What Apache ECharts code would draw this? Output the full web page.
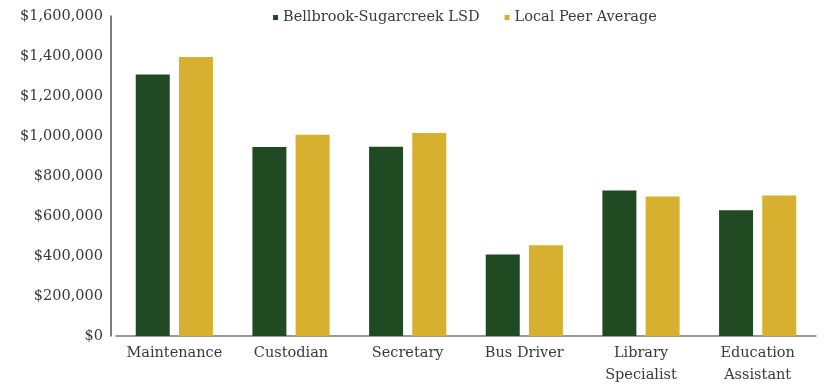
<!DOCTYPE html>
<html>
<head>
<meta charset="utf-8">
<script src="https://cdn.jsdelivr.net/npm/echarts@6/dist/echarts.min.js"></script>
<style>
  html, body { margin: 0; padding: 0; background: #fff; }
  #chart { width: 827px; height: 386px; }
</style>
</head>
<body>
<div id="chart"></div>
<script>
// categories and values
var categories = ['Maintenance', 'Custodian', 'Secretary', 'Bus Driver', 'Library\nSpecialist', 'Education\nAssistant'];
var bellbrook = [1308000, 945000, 946000, 408000, 728000, 629000];
var peerAverage = [1395000, 1006000, 1015000, 454000, 697000, 702000];

var chart = echarts.init(document.getElementById('chart'));
var font = '"DejaVu Serif", "Liberation Serif", serif';

chart.setOption({
  animation: false,
  textStyle: { fontFamily: font },
  legend: {
    left: 268,
    top: 5,
    itemWidth: 5,
    itemHeight: 5,
    itemGap: 25,
    icon: 'rect',
    textStyle: { fontFamily: font, fontSize: 14.5, color: '#3a3a3a' },
    data: ['Bellbrook-Sugarcreek LSD', 'Local Peer Average']
  },
  grid: { left: 116, right: 11, top: 16, bottom: 47 },
  xAxis: {
    type: 'category',
    data: categories,
    axisTick: { show: false },
    axisLine: { lineStyle: { color: '#777', width: 1.5 } },
    axisLabel: { interval: 0, color: '#3a3a3a', fontSize: 14.5, fontFamily: font, lineHeight: 22, margin: 6 }
  },
  yAxis: {
    type: 'value',
    min: 0,
    max: 1600000,
    interval: 200000,
    offset: 5,
    splitLine: { show: false },
    axisTick: { show: false },
    axisLine: { show: true, lineStyle: { color: '#555', width: 1.5 } },
    axisLabel: {
      color: '#3a3a3a',
      fontSize: 14.5,
      fontFamily: font,
      margin: 8,
      formatter: function (v) { return '$' + v.toLocaleString('en-US'); }
    }
  },
  series: [{
    name: 'Bellbrook-Sugarcreek LSD',
    type: 'bar',
    data: bellbrook,
    barWidth: 34,
    barGap: '27%',
    itemStyle: { color: '#1f4a22' }
  }, {
    name: 'Local Peer Average',
    type: 'bar',
    data: peerAverage,
    barWidth: 34,
    itemStyle: { color: '#d6b02e' }
  }]
});
</script>
</body>
</html>
